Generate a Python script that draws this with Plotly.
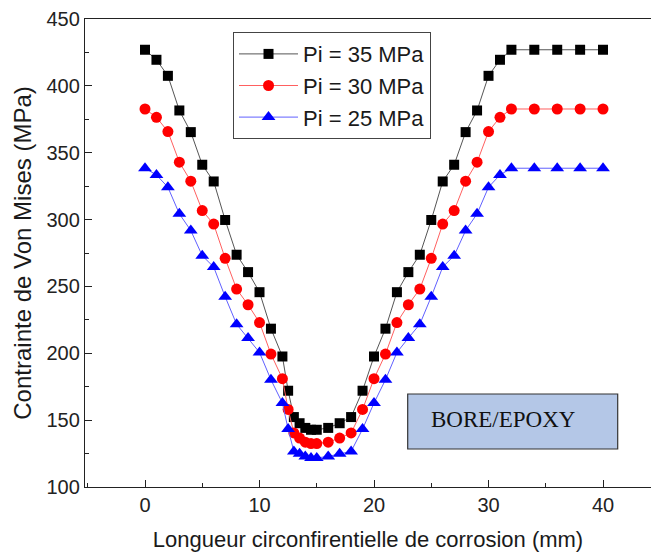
import plotly.graph_objects as go

# Circumferential corrosion length (mm)
x_mm = [0, 1, 2, 3, 4, 5, 6, 7, 8, 9, 10, 11, 12, 12.5, 13, 13.5, 14, 14.5, 15,
        16, 17, 18, 19, 20, 21, 22, 23, 24, 25, 26, 27, 28, 29, 30, 31, 32,
        34, 36, 38, 40]

# Von Mises stress (MPa) for each internal pressure
vm_35 = [427, 419.5, 407.5, 381.6, 365.4, 341, 328.5, 299.7, 273.7, 260.7, 245.7,
         218.4, 197.6, 172, 152.3, 147.7, 144.2, 142.8, 142.8,
         144.2, 147.7, 152.3, 172, 197.6, 218.4, 245.7, 260.7, 273.7, 299.7, 328.5,
         341, 365.4, 381.6, 407.5, 419.5, 427,
         427, 427, 427, 427]
vm_30 = [382.7, 376.5, 365.8, 342.9, 328.7, 306.7, 296.6, 271, 248, 236.3, 223,
         199.4, 181, 158, 140.4, 136.6, 133.5, 132.5, 132.5,
         133.5, 136.6, 140.4, 158, 181, 199.4, 223, 236.3, 248, 271, 296.6,
         306.7, 328.7, 342.9, 365.8, 376.5, 382.7,
         382.7, 382.7, 382.7, 382.7]
vm_25 = [338.4, 333.4, 324.2, 304.3, 291.8, 273, 264.5, 242.3, 221.7, 211.4, 200.6,
         180.2, 162.8, 143.3, 126.6, 124.9, 122.9, 121.7, 121.7,
         122.9, 124.9, 126.6, 143.3, 162.8, 180.2, 200.6, 211.4, 221.7, 242.3, 264.5,
         273, 291.8, 304.3, 324.2, 333.4, 338.4,
         338.4, 338.4, 338.4, 338.4]

series_names = ["Pi = 35 MPa", "Pi = 30 MPa", "Pi = 25 MPa"]
x_ticks = [0, 10, 20, 30, 40]
y_ticks = [100, 150, 200, 250, 300, 350, 400, 450]

styles = [
    dict(line_color="#555555", marker_color="#000000", symbol="square", size=10),
    dict(line_color="#ff6060", marker_color="#ff0000", symbol="circle", size=11),
    dict(line_color="#6060ff", marker_color="#0000ff", symbol="triangle-up", size=12),
]

fig = go.Figure()
for name, ys, st in zip(series_names, [vm_35, vm_30, vm_25], styles):
    fig.add_trace(go.Scatter(
        x=x_mm, y=ys, name=name, mode="lines+markers",
        line=dict(color=st["line_color"], width=1),
        marker=dict(symbol=st["symbol"], size=st["size"], color=st["marker_color"],
                    line=dict(width=0)),
    ))

font_family = "Liberation Sans, Arial, sans-serif"

fig.update_layout(
    width=651, height=557,
    margin=dict(l=85, r=0, t=19, b=70),
    paper_bgcolor="white", plot_bgcolor="white",
    font=dict(family=font_family, color="#1a1a1a"),
    showlegend=True,
    legend=dict(
        x=0.2615, y=0.972, xanchor="left", yanchor="top",
        bordercolor="#444444", borderwidth=1, bgcolor="white",
        font=dict(size=22, family=font_family, color="#1a1a1a"),
        tracegroupgap=0, itemwidth=59,
    ),
    xaxis=dict(
        range=[-5.24, 44.19], tickvals=x_ticks, ticks="inside", ticklen=7,
        tickwidth=1, tickcolor="#222", showline=True, linecolor="#222",
        linewidth=1.3, mirror=True, showgrid=False, zeroline=False,
        tickfont=dict(size=20, family=font_family, color="#222"),
        minor=dict(dtick=5, ticks="inside", ticklen=4, tickcolor="#222", showgrid=False),
        title=dict(text="Longueur circonfirentielle de corrosion (mm)",
                   font=dict(size=22, family=font_family, color="#1a1a1a"),
                   standoff=16),
    ),
    yaxis=dict(
        range=[100, 450], tickvals=y_ticks, ticks="inside", ticklen=7,
        tickwidth=1, tickcolor="#222", showline=True, linecolor="#222",
        linewidth=1.3, mirror=False, showgrid=False, zeroline=False,
        tickfont=dict(size=20, family=font_family, color="#222"),
        minor=dict(dtick=25, ticks="inside", ticklen=4, tickcolor="#222", showgrid=False),
        title=dict(text="Contrainte de Von Mises (MPa)",
                   font=dict(size=24, family=font_family, color="#1a1a1a"),
                   standoff=8),
    ),
)

# Material label box
fig.add_shape(type="rect", xref="paper", yref="paper",
              x0=(407.7 - 85) / 566, x1=(617.7 - 85) / 566,
              y0=(487 - 449) / 468, y1=(487 - 394) / 468,
              line=dict(color="#333333", width=1.2), fillcolor="#b4c7e7")
fig.add_annotation(text="BORE/EPOXY", xref="paper", yref="paper",
                   x=(503.7 - 85) / 566, y=(487 - 419) / 468,
                   xanchor="center", yanchor="middle", showarrow=False,
                   font=dict(family="Liberation Serif, Times New Roman, serif",
                             size=23, color="#111111"))

fig.write_html("out.html")
